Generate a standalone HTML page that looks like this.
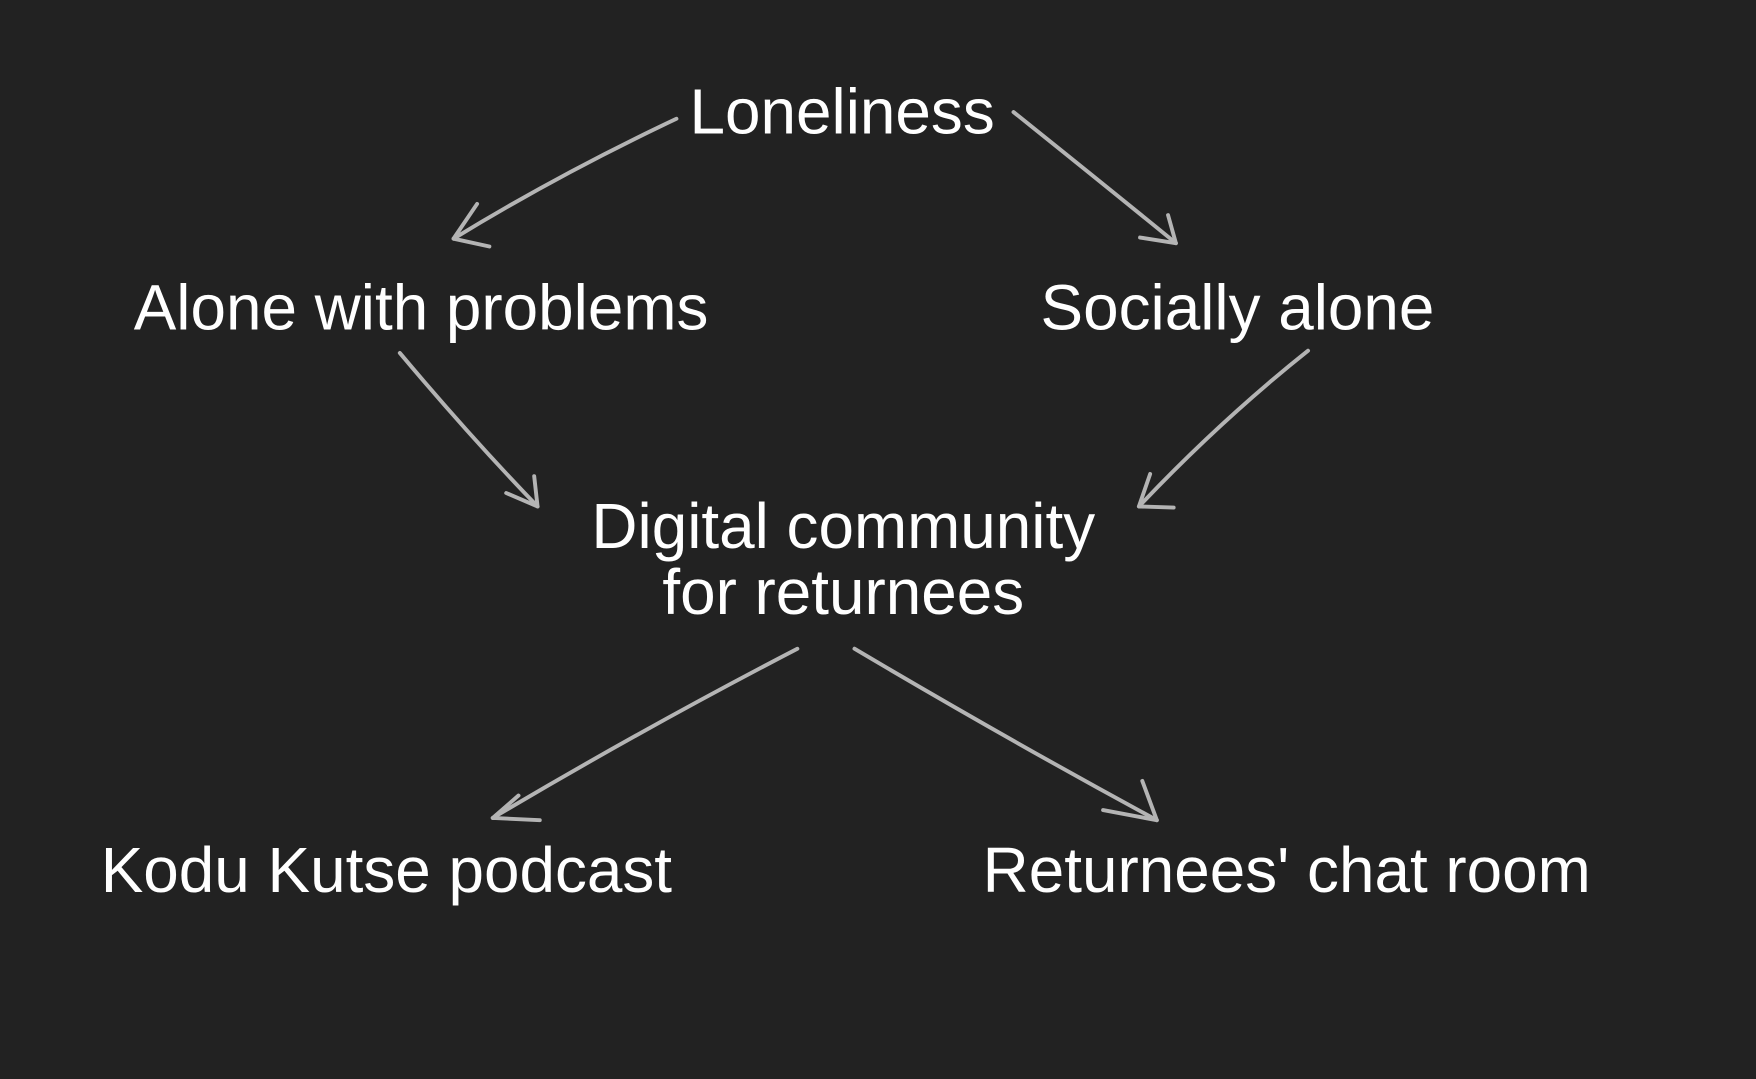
<!DOCTYPE html>
<html><head><style>
html,body{margin:0;padding:0;background:#222222;}
svg{display:block;}
text{font-family:"Liberation Sans",Arial,sans-serif;fill:#ffffff;font-size:57px;text-anchor:middle;}
</style></head><body>
<svg width="1756" height="1079" viewBox="0 0 1568 963" preserveAspectRatio="none">
<rect width="1568" height="963" fill="#222222"/>
<g stroke="#b4b4b4" stroke-width="3.5" fill="none" stroke-linecap="round">
<path d="M604,106 Q500,155 405,213"/><path d="M405,213 L426,182 M405,213 L437,220"/>
<path d="M905,100 Q980,160 1050,217"/><path d="M1050,217 L1043,192 M1050,217 L1018,212"/>
<path d="M357,315 Q420,390 480,452"/><path d="M480,452 L477,425 M480,452 L452,440"/>
<path d="M1168,313 Q1090,375 1017,452"/><path d="M1017,452 L1027,423 M1017,452 L1048,453"/>
<path d="M712,579 Q575,650 440,730"/><path d="M440,730 L463,710 M440,730 L482,732"/>
<path d="M763,579 Q900,660 1033,732"/><path d="M1033,732 L1020,697 M1033,732 L985,723"/>
</g>
<text x="752" y="119">Loneliness</text>
<text x="376" y="294">Alone with problems</text>
<text x="1105" y="294">Socially alone</text>
<text x="753" y="489">Digital community</text>
<text x="753" y="548">for returnees</text>
<text x="345" y="796">Kodu Kutse podcast</text>
<text x="1149" y="796">Returnees' chat room</text>
</svg>
</body></html>
